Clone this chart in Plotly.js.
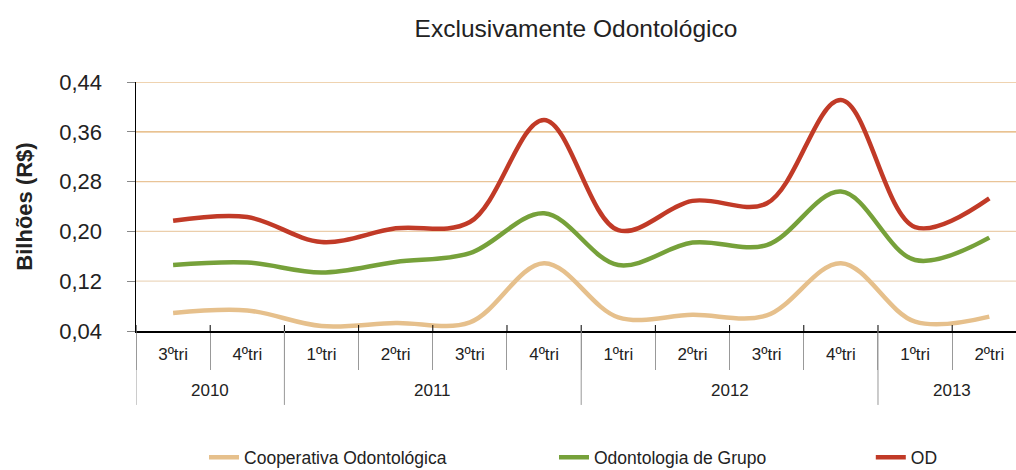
<!DOCTYPE html>
<html>
<head>
<meta charset="utf-8">
<script src="https://cdn.plot.ly/plotly-3.0.1.min.js"></script>
<style>
html,body{margin:0;padding:0;background:#fff;}
#chart{width:1016px;height:470px;}
</style>
</head>
<body>
<div id="chart"></div>
<script>
const years = ["2010","2010","2011","2011","2011","2011","2012","2012","2012","2012","2013","2013"];
const quarters = ["3ºtri","4ºtri","1ºtri","2ºtri","3ºtri","4ºtri","1ºtri","2ºtri","3ºtri","4ºtri","1ºtri","2ºtri"];
const cooperativa = [0.069,0.073,0.048,0.053,0.054,0.149,0.062,0.066,0.065,0.149,0.055,0.063];
const grupo = [0.146,0.150,0.134,0.151,0.165,0.229,0.146,0.182,0.178,0.264,0.154,0.190];
const od = [0.217,0.223,0.183,0.205,0.215,0.379,0.202,0.249,0.245,0.411,0.207,0.253];
const seriesNames = ["Cooperativa Odontológica","Odontologia de Grupo","OD"];
const seriesColors = ["#e6c08c","#76a13a","#c13a27"];
const yTicks = [0.04,0.12,0.20,0.28,0.36,0.44];
const gridColors = ["#ffffff","#ecd8bf","#ebceab","#e9c497","#e2ae6c","#e0a862"];

const idx = quarters.map((q, i) => i);
const boundaries = idx.map(i => i - 0.5).concat([idx.length - 0.5]);

// year groups derived from the years array
const groups = [];
years.forEach((y, i) => {
  const g = groups[groups.length - 1];
  if (g && g.year === y) g.end = i; else groups.push({year: y, start: i, end: i});
});

const legendIds = ["legend", "legend2", "legend3"];
const data = [cooperativa, grupo, od].map((vals, i) => ({
  type: "scatter",
  mode: "lines",
  x: idx,
  y: vals,
  name: seriesNames[i],
  legend: legendIds[i],
  line: {color: seriesColors[i], width: 4.5, shape: "spline", smoothing: 1},
  hoverinfo: "skip"
}));

const shapes = [];
yTicks.slice(1).forEach((v, i) => shapes.push({
  type: "line", xref: "paper", yref: "y", x0: 0, x1: 1, y0: v, y1: v,
  line: {color: gridColors[i + 1], width: 1.2}, layer: "below"
}));
// small inside tick marks at category boundaries
boundaries.forEach(b => shapes.push({
  type: "line", xref: "x", yref: "paper", x0: b, x1: b, y0: 0, y1: 0.024,
  line: {color: "#000", width: 1}
}));
// year dividers through both label rows
groups.forEach(g => shapes.push({
  type: "line", xref: "x", yref: "paper", x0: g.start - 0.5, x1: g.start - 0.5, y0: 0, y1: -0.297,
  line: {color: "#999", width: 1}
}));

const annotations = groups.map(g => ({
  text: g.year, xref: "x", yref: "paper", x: (g.start + g.end) / 2, y: -0.238,
  xanchor: "center", yanchor: "middle", showarrow: false,
  font: {size: 17, color: "#222"}
}));

const legendBase = {
  orientation: "h", xanchor: "left", y: -0.508, yanchor: "middle",
  font: {size: 17.5, color: "#222"}, bgcolor: "rgba(0,0,0,0)"
};

const layout = {
  width: 1016, height: 470,
  margin: {l: 136, r: 0, t: 82, b: 139, autoexpand: false},
  paper_bgcolor: "#fff", plot_bgcolor: "#fff",
  separators: ",.",
  font: {family: "Liberation Sans, Arial, sans-serif", color: "#222"},
  title: {
    text: "Exclusivamente Odontológico",
    font: {family: "Liberation Sans, Arial, sans-serif", size: 24.5, color: "#222"},
    x: 0.5, xanchor: "center", y: 0.94, yanchor: "middle", xref: "paper"
  },
  xaxis: {
    range: [-0.5, 11.36],
    tickvals: idx, ticktext: quarters,
    ticks: "",
    showline: true, linecolor: "#000", linewidth: 1.5,
    minor: {tickvals: boundaries, ticks: "outside", ticklen: 37, tickcolor: "#999", tickwidth: 1, showgrid: false},
    tickfont: {size: 17, color: "#222"},
    ticklabelstandoff: 7,
    showgrid: false, zeroline: false, fixedrange: true, automargin: false
  },
  yaxis: {
    range: [0.04, 0.44],
    tickvals: yTicks,
    tickformat: ".2f",
    showline: true, linecolor: "#000", linewidth: 1.5,
    ticks: "outside", ticklen: 8, tickcolor: "#888",
    ticklabelstandoff: 20,
    tickfont: {size: 22, color: "#222"},
    showgrid: false, zeroline: false,
    title: {text: "<b>Bilhões (R$)</b>", font: {size: 22, color: "#222"}, standoff: 20},
    fixedrange: true, automargin: false
  },
  shapes: shapes,
  annotations: annotations,
  showlegend: true,
  legend: Object.assign({}, legendBase, {x: 0.0773}),
  legend2: Object.assign({}, legendBase, {x: 0.475}),
  legend3: Object.assign({}, legendBase, {x: 0.835})
};

Plotly.newPlot("chart", data, layout, {displayModeBar: false, staticPlot: true});
</script>
</body>
</html>
